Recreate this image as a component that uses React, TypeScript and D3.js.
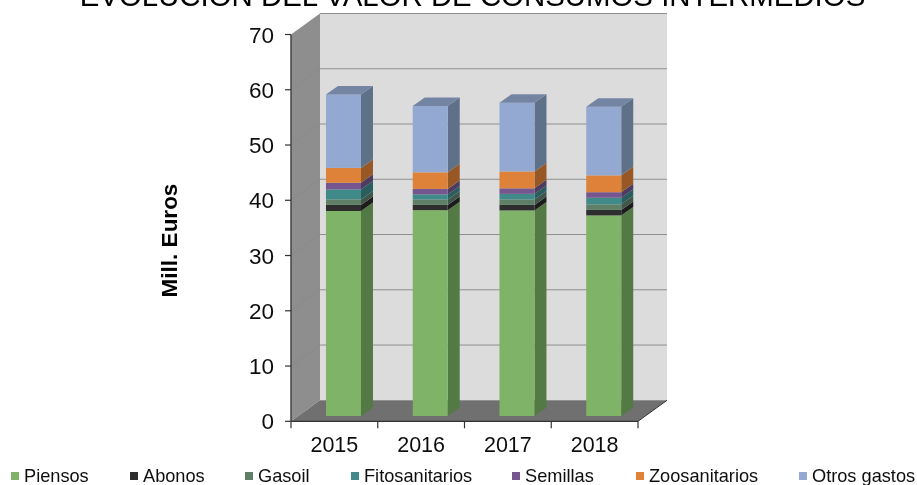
import React from "react";
import * as d3 from "d3";

const years = ["2015", "2016", "2017", "2018"];
const seriesNames = ["Piensos", "Abonos", "Gasoil", "Fitosanitarios", "Semillas", "Zoosanitarios", "Otros gastos"];
const piensos = [37.1, 37.25, 37.2, 36.3];
const abonos = [1.1, 0.95, 1.0, 1.0];
const gasoil = [1.0, 1.0, 1.0, 1.0];
const fitosanitarios = [1.8, 0.9, 1.0, 1.2];
const semillas = [1.2, 1.0, 1.0, 1.0];
const zoosanitarios = [2.7, 3.0, 3.05, 3.05];
const otros = [13.3, 12.0, 12.45, 12.4];
const seriesValues = [piensos, abonos, gasoil, fitosanitarios, semillas, zoosanitarios, otros];
const yTicks = [0, 10, 20, 30, 40, 50, 60, 70];

const front = ["#7fb368", "#2f2f2f", "#5f7f66", "#3f8a8a", "#74568f", "#dd8238", "#93a9d1"];
const side = ["#537a45", "#1e1e1e", "#41574a", "#2b5d5e", "#4e3a61", "#975827", "#5f7089"];
const topc = ["#64895a", "#3a3a3a", "#54705c", "#357575", "#604a78", "#b46c30", "#7385a3"];
const legendX = [11, 130, 245, 351, 512, 636, 799];

const FONT = "'Liberation Sans', Arial, sans-serif";
const DX = 29, DY = -21;
const BDX = 12, BDY = -8.5;

export default function App() {
  const y = d3.scaleLinear().domain([0, 70]).range([421.3, 34.5]);
  const x = d3.scaleBand<string>().domain(years).range([291, 638]);
  const bw = 35;
  const barOffset = 5.3;
  const stackGen = d3.stack<number>().keys(seriesNames.map((_, i) => String(i)))
    .value((_, k) => seriesValues[+k][_ as number]);
  const stacked = stackGen(years.map((_, i) => i));
  const yb = (v: number) => y(v) - barOffset;
  const x0 = 291, x1 = 638, y0 = y(0), yT = y(70);
  const poly = (p: number[][]) => p.map((q) => q.join(",")).join(" ");

  return (
    <svg width={917} height={485} style={{ position: "fixed", left: 0, top: 0, background: "#fff" }} fontFamily={FONT}>
      <defs>
        <filter id="soft" x="-5%" y="-5%" width="110%" height="110%">
          <feGaussianBlur stdDeviation="0.45" />
        </filter>
      </defs>
      <g filter="url(#soft)">
        <text x={472.5} y={6} textAnchor="middle" fontSize={29.4} fill="#000">EVOLUCIÓN DEL VALOR DE CONSUMOS INTERMEDIOS</text>
        <polygon points={poly([[x0 + DX, yT + DY], [x1 + DX, yT + DY], [x1 + DX, y0 + DY], [x0 + DX, y0 + DY]])} fill="#dcdcdc" />
        <polygon points={poly([[x0, yT], [x0 + DX, yT + DY], [x0 + DX, y0 + DY], [x0, y0]])} fill="#8e8e8e" />
        <polygon points={poly([[x0, y0], [x0 + DX, y0 + DY], [x1 + DX, y0 + DY], [x1, y0]])} fill="#6f6f6f" />
        {yTicks.slice(1).map((t) => (
          <line key={t} x1={x0 + DX} x2={x1 + DX} y1={y(t) + DY} y2={y(t) + DY} stroke="#8f8f8f" strokeWidth={1} />
        ))}
        {yTicks.slice(1, -1).map((t) => (
          <line key={t} x1={x0} x2={x0 + DX} y1={y(t)} y2={y(t) + DY} stroke="#888888" strokeWidth={0.7} />
        ))}
        {years.map((yr, i) => {
          const left = (x(yr) as number) + (x.bandwidth() - bw) / 2 + 9.1;
          const right = left + bw;
          return (
            <g key={yr}>
              {stacked.map((s, k) => {
                const [a, b] = s[i];
                return (
                  <g key={k}>
                    <polygon points={poly([[right, yb(a)], [right + BDX, yb(a) + BDY], [right + BDX, yb(b) + BDY], [right, yb(b)]])} fill={side[k]} />
                    <rect x={left} y={yb(b)} width={bw} height={yb(a) - yb(b)} fill={front[k]} />
                    {k === stacked.length - 1 && (
                      <polygon points={poly([[left, yb(b)], [left + BDX, yb(b) + BDY], [right + BDX, yb(b) + BDY], [right, yb(b)]])} fill={topc[k]} />
                    )}
                  </g>
                );
              })}
            </g>
          );
        })}
        <line x1={x0} x2={x0} y1={yT} y2={y0} stroke="#444" strokeWidth={1.5} />
        <line x1={x0} x2={x1} y1={y0} y2={y0} stroke="#333" strokeWidth={1.2} />
        <line x1={x1} x2={x1 + DX} y1={y0} y2={y0 + DY} stroke="#333" strokeWidth={1} />
        {yTicks.map((t) => (
          <g key={t}>
            <line x1={x0 - 6} x2={x0} y1={y(t)} y2={y(t)} stroke="#333" strokeWidth={1.2} />
            <text x={x0 - 17} y={y(t) + 8} textAnchor="end" fontSize={22.5} fill="#111">{t}</text>
          </g>
        ))}
        {[...years.map((yr) => x(yr) as number), x1].map((v, i) => (
          <line key={i} x1={v} x2={v} y1={y0} y2={y0 + 7} stroke="#333" strokeWidth={1.2} />
        ))}
        {years.map((yr) => (
          <text key={yr} x={(x(yr) as number) + x.bandwidth() / 2} y={452} textAnchor="middle" fontSize={21.5} fill="#111">{yr}</text>
        ))}
        <text transform="translate(177,240.5) rotate(-90)" textAnchor="middle" fontSize={22.5} fontWeight="bold" fill="#000">Mill. Euros</text>
        {seriesNames.map((n, i) => (
          <g key={n}>
            <rect x={legendX[i]} y={472} width={8} height={8} fill={front[i]} />
            <text x={legendX[i] + 13} y={482} fontSize={18.2} fill="#111">{n}</text>
          </g>
        ))}
      </g>
    </svg>
  );
}
